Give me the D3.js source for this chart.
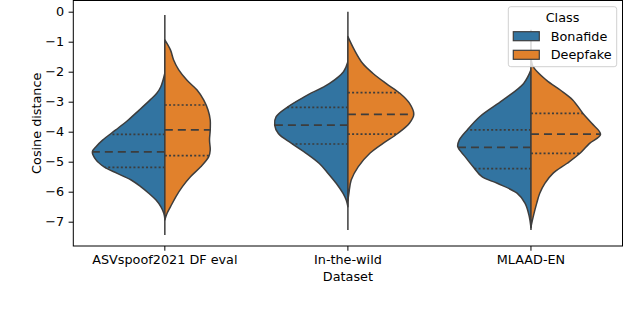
<!DOCTYPE html>
<html><head><meta charset="utf-8">
<script src="https://cdn.jsdelivr.net/npm/d3@7"></script>
<style>body{margin:0;background:#fff}svg{display:block}text{font-family:"DejaVu Sans",sans-serif;fill:#000}</style>
</head><body><svg id="c" width="640" height="312"></svg>
<script>
const categories = ["ASVspoof2021 DF eval", "In-the-wild", "MLAAD-EN"];
const classes = ["Bonafide", "Deepfake"];
const yTicks = [0, -1, -2, -3, -4, -5, -6, -7];
// density profiles: [cosine distance, relative density]
const asvBonafide = [[-2.05,0],[-2.5,.055],[-2.72,.11],[-2.94,.2],[-3.28,.35],[-3.61,.5],[-3.94,.67],[-4.28,.85],[-4.5,.94],[-4.67,.99],[-4.94,.94],[-5.17,.83],[-5.39,.65],[-5.61,.46],[-5.83,.33],[-6.05,.22],[-6.28,.12],[-6.5,.055],[-6.72,.014],[-6.9,0]];
const asvDeepfake = [[-0.94,0],[-1.28,.078],[-1.61,.12],[-1.94,.19],[-2.28,.30],[-2.61,.44],[-2.94,.53],[-3.28,.59],[-3.61,.62],[-3.94,.62],[-4.28,.61],[-4.61,.62],[-4.83,.60],[-5.17,.49],[-5.5,.35],[-5.83,.24],[-6.17,.15],[-6.5,.078],[-6.72,.031],[-6.94,0]];
const itwBonafide = [[-1.67,0],[-2.0,.06],[-2.39,.25],[-2.83,.59],[-3.17,.82],[-3.5,.98],[-3.78,1.0],[-4.06,.95],[-4.39,.77],[-4.72,.57],[-5.06,.39],[-5.39,.27],[-5.72,.16],[-6.05,.068],[-6.28,.023],[-6.5,0]];
const itwDeepfake = [[-0.83,0],[-1.28,.09],[-1.72,.2],[-2.05,.34],[-2.39,.52],[-2.72,.71],[-3.05,.84],[-3.42,.9],[-3.72,.84],[-4.06,.68],[-4.39,.48],[-4.72,.3],[-5.17,.14],[-5.61,.045],[-6.05,.014],[-6.3,0]];
const mlaadBonafide = [[-1.94,0],[-2.39,.1],[-2.94,.38],[-3.5,.7],[-3.94,.87],[-4.28,.98],[-4.5,1.0],[-4.83,.9],[-5.17,.79],[-5.5,.67],[-5.72,.46],[-6.05,.19],[-6.39,.08],[-6.83,.023],[-7.2,0]];
const mlaadDeepfake = [[-1.5,0],[-1.83,.03],[-2.28,.21],[-2.61,.4],[-2.94,.57],[-3.39,.71],[-3.72,.83],[-4.09,.95],[-4.39,.8],[-4.72,.67],[-5.06,.49],[-5.39,.3],[-5.72,.19],[-6.05,.12],[-6.39,.078],[-6.83,.031],[-7.17,0]];
// quartiles [q1, median, q3]
const asvQuartiles = [[-5.19,-4.67,-4.09],[-4.8,-3.94,-3.11]];
const itwQuartiles = [[-4.41,-3.78,-3.19],[-4.08,-3.42,-2.7]];
const mlaadQuartiles = [[-5.23,-4.52,-3.94],[-4.72,-4.08,-3.39]];
// full data extent (min, max) per dataset
const extents = [[-7.44,-0.11],[-7.28,0.0],[-7.28,-0.6]];

const densities = [[asvBonafide, asvDeepfake],[itwBonafide, itwDeepfake],[mlaadBonafide, mlaadDeepfake]];
const quartiles = [asvQuartiles, itwQuartiles, mlaadQuartiles];
const colors = ["#3274a1", "#e1812c"];
const edge = "#3d3d3d";

const svg = d3.select("#c");
const L = 73.3, R = 622.5, T = 0.5, B = 246;
const x = d3.scaleBand().domain(categories).range([L, R]).padding(0);
const y = d3.scaleLinear().domain([-7.81, 0.39]).range([B, 0]);
const maxW = x.bandwidth() * 0.4;

function interp(prof, v) {
  for (let k = 0; k < prof.length - 1; k++) {
    const a = prof[k], b = prof[k + 1];
    if (v <= a[0] && v >= b[0]) { const t = (v - a[0]) / (b[0] - a[0]); return a[1] + t * (b[1] - a[1]); }
  }
  return 0;
}

categories.forEach((cat, i) => {
  const cx = x(cat) + x.bandwidth() / 2;
  svg.append("line").attr("x1", cx).attr("x2", cx).attr("y1", y(extents[i][0])).attr("y2", y(extents[i][1]))
    .attr("stroke", edge).attr("stroke-width", 1.5);
  classes.forEach((cl, j) => {
    const side = j === 0 ? -1 : 1;
    const prof = densities[i][j];
    const line = d3.line().x(d => cx + side * d[1] * maxW).y(d => y(d[0])).curve(d3.curveCatmullRom.alpha(0.5));
    svg.append("path").attr("d", line(prof) + "Z").attr("fill", colors[j]).attr("stroke", edge).attr("stroke-width", 1.5).attr("stroke-linejoin", "round");
    quartiles[i][j].forEach((q, k) => {
      const w = interp(prof, q) * maxW;
      svg.append("line").attr("x1", cx).attr("x2", cx + side * w).attr("y1", y(q)).attr("y2", y(q))
        .attr("stroke", edge).attr("stroke-width", 1.7)
        .attr("stroke-dasharray", k === 1 ? "8,5" : "2,2.2");
    });
  });
});

// axes
const yAxis = d3.axisLeft(y).tickValues(yTicks).tickSize(4.7).tickPadding(4.5).tickFormat(d => d === 0 ? "0" : "\u2212" + Math.abs(d));
const gy = svg.append("g").attr("transform", `translate(${L},0)`).call(yAxis);
const xAxis = d3.axisBottom(x).tickSize(4.7).tickPadding(4.5);
const gx = svg.append("g").attr("transform", `translate(0,${B})`).call(xAxis);
[gx, gy].forEach(g => { g.select(".domain").remove(); g.selectAll("line").attr("stroke", "#000").attr("stroke-width", 1); g.selectAll("text").attr("font-size", 12.8).attr("font-family", "DejaVu Sans").attr("fill", "#000"); });
svg.append("rect").attr("x", L).attr("y", T).attr("width", R - L).attr("height", B - T).attr("fill", "none").attr("stroke", "#000").attr("stroke-width", 1);

svg.append("text").attr("x", (L + R) / 2).attr("y", 281).attr("text-anchor", "middle").attr("font-size", 12.8).text("Dataset");
svg.append("text").attr("transform", `translate(41,${(T + B) / 2}) rotate(-90)`).attr("text-anchor", "middle").attr("font-size", 12.8).text("Cosine distance");

// legend
const lg = svg.append("g");
lg.append("rect").attr("x", 508.3).attr("y", 6.7).attr("width", 108.4).attr("height", 60).attr("rx", 2.5)
  .attr("fill", "#fff").attr("fill-opacity", 0.8).attr("stroke", "#d0d0d0").attr("stroke-width", 1);
lg.append("text").attr("x", 562.5).attr("y", 21.5).attr("text-anchor", "middle").attr("font-size", 12.8).text("Class");
classes.forEach((cl, j) => {
  const yy = 31.7 + j * 18.6;
  lg.append("rect").attr("x", 513.3).attr("y", yy).attr("width", 26).attr("height", 9).attr("fill", colors[j]).attr("stroke", edge).attr("stroke-width", 1.2);
  lg.append("text").attr("x", 550.7).attr("y", yy + 9).attr("font-size", 12.8).text(cl);
});
</script></body></html>
